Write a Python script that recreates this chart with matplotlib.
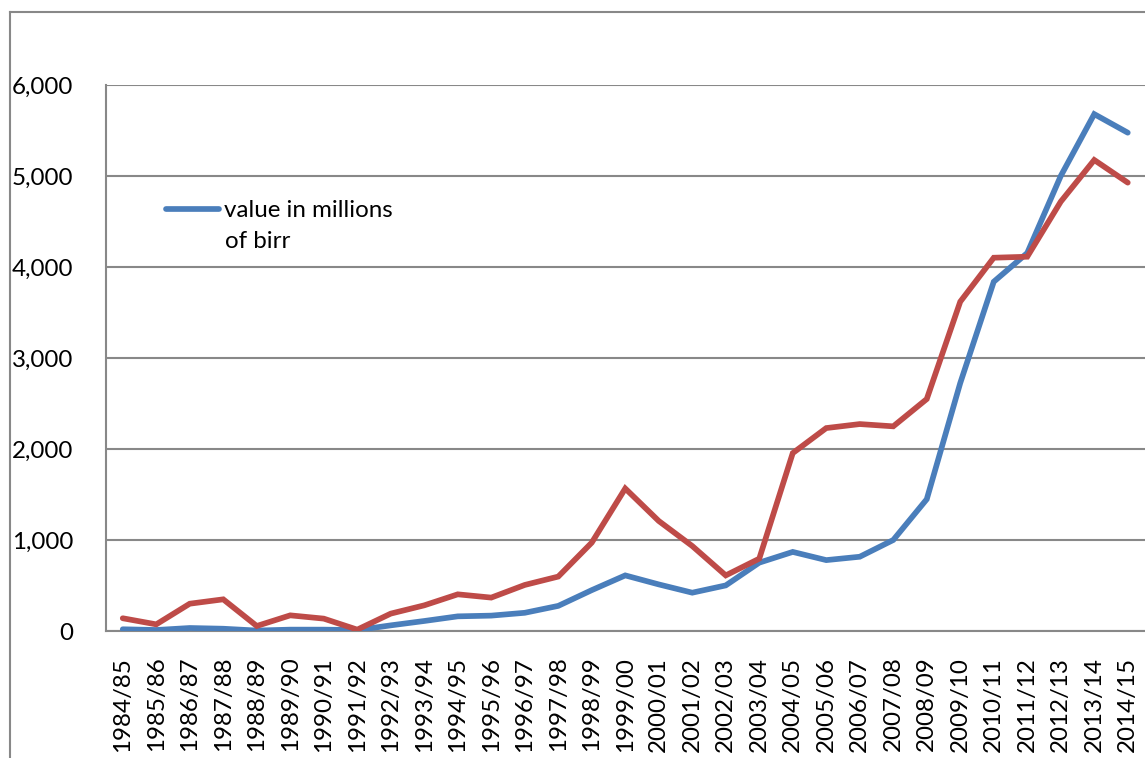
import matplotlib
matplotlib.use("Agg")
import matplotlib.pyplot as plt
from matplotlib.lines import Line2D

years = ["1984/85", "1985/86", "1986/87", "1987/88", "1988/89", "1989/90", "1990/91",
         "1991/92", "1992/93", "1993/94", "1994/95", "1995/96", "1996/97", "1997/98",
         "1998/99", "1999/00", "2000/01", "2001/02", "2002/03", "2003/04", "2004/05",
         "2005/06", "2006/07", "2007/08", "2008/09", "2009/10", "2010/11", "2011/12",
         "2012/13", "2013/14", "2014/15"]

value_millions_birr = [19, 11, 33, 25, 5, 15, 15, 10, 62, 110, 161, 169, 200, 276,
                       449, 611, 512, 421, 501, 751, 869, 779, 816, 1000, 1448,
                       2725, 3838, 4154, 5000, 5680, 5476]

second_series = [140, 73, 300, 348, 55, 172, 136, 15, 191, 282, 403, 367, 506, 598,
                 971, 1566, 1209, 934, 611, 795, 1955, 2230, 2274, 2249, 2549,
                 3619, 4102, 4113, 4718, 5176, 4927]

y_ticks = [0, 1000, 2000, 3000, 4000, 5000, 6000]

W, H = 1145, 758
FS = 17.4
fig = plt.figure(figsize=(W / 100, H / 100), dpi=100)
plt.rcParams['font.family'] = ['Lato', 'DejaVu Sans']

ax = fig.add_axes([106 / W, (H - 631) / H, (1144.5 - 106) / W, (631 - 85) / H])

x = list(range(len(years)))
blue = "#4A7EBB"
red = "#BE4B48"
LW = 4.1
ax.plot(x, value_millions_birr, color=blue, lw=LW, solid_capstyle='round',
        solid_joinstyle='miter', zorder=3)
ax.plot(x, second_series, color=red, lw=LW, solid_capstyle='round',
        solid_joinstyle='miter', zorder=3)

ax.set_xlim(-0.5, len(years) - 0.5)
ax.set_ylim(0, 6000)
ax.set_yticks(y_ticks)
ax.set_yticklabels([f"{v:,}" for v in y_ticks])
ax.set_xticks(x)
ax.set_xticklabels(years, rotation=90)
ax.tick_params(axis='y', length=0, pad=23.5, labelsize=FS)
ax.tick_params(axis='x', length=0, pad=18.5, labelsize=FS)

ax.grid(axis='y', color="#888888", lw=1.5)
ax.set_axisbelow(True)
for s in ['top', 'right']:
    ax.spines[s].set_visible(False)
for s in ['left', 'bottom']:
    ax.spines[s].set_color("#888888")
    ax.spines[s].set_linewidth(1.5)
ax.set_facecolor('none')

# Legend (first series only, as in the reference)
handle = Line2D([0], [0], color=blue, lw=LW, solid_capstyle='round')
leg = ax.legend([handle], ["value in millions"], loc='upper left',
                bbox_to_anchor=((166 - 106) / (1144.5 - 106), (631 - 200) / (631 - 85)),
                frameon=False, fontsize=FS, handlelength=2.2, handletextpad=0.2,
                borderpad=0.0, borderaxespad=0.0)
fig.text(225 / W, 1 - 242 / H, "of birr", fontsize=FS, ha='left', va='center')

# Outer chart border (cropped)
fig.add_artist(Line2D([10 / W, 10 / W], [0, 1 - 12 / H], color="#888888", lw=1.5,
                      transform=fig.transFigure))
fig.add_artist(Line2D([10 / W, 1], [1 - 12 / H, 1 - 12 / H], color="#888888", lw=1.5,
                      transform=fig.transFigure))

fig.savefig("out.png", dpi=100)
